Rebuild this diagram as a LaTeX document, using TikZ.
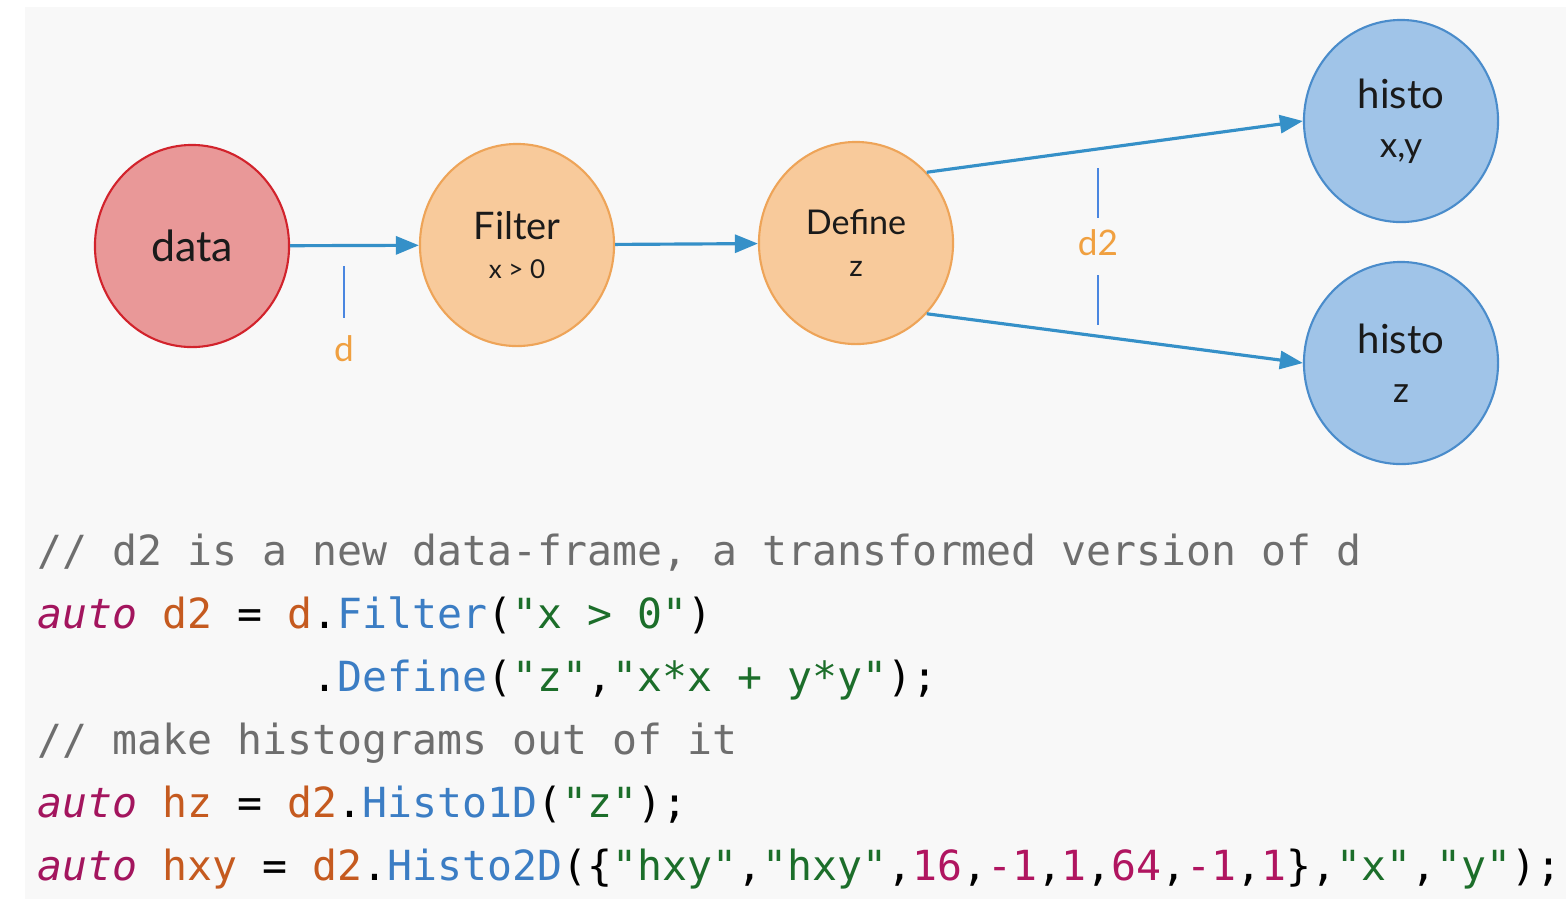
\documentclass[tikz,border=0pt]{standalone}
\usepackage{fontspec}
\setsansfont{Lato}
\setmonofont{DejaVu Sans Mono}
\usepackage{tikz}
\usetikzlibrary{positioning,shapes.geometric,arrows.meta}

\definecolor{bgcol}{HTML}{F8F8F8}
\definecolor{datafill}{HTML}{E99898}
\definecolor{dataline}{HTML}{D2232C}
\definecolor{opfill}{HTML}{F8CA9B}
\definecolor{opline}{HTML}{EEA458}
\definecolor{resfill}{HTML}{A0C4E8}
\definecolor{resline}{HTML}{4A8CCB}
\definecolor{flowcol}{HTML}{3590C8}
\definecolor{tickcol}{HTML}{4A86E0}
\definecolor{labcol}{HTML}{F0A040}
\definecolor{txtcol}{HTML}{1A1A1A}
\definecolor{cmtcol}{HTML}{6E6E6E}
\definecolor{kwcol}{HTML}{A3155E}
\definecolor{varcol}{HTML}{C55A1F}
\definecolor{fncol}{HTML}{3B7DC4}
\definecolor{strcol}{HTML}{1C6E2A}
\definecolor{numcol}{HTML}{B01560}

% code colouring
\newcommand\ckw[1]{{\color{kwcol}\itshape #1}}
\newcommand\cvar[1]{\textcolor{varcol}{#1}}
\newcommand\cfn[1]{\textcolor{fncol}{#1}}
\newcommand\cstr[1]{\textcolor{strcol}{#1}}
\newcommand\cnum[1]{\textcolor{numcol}{#1}}
\newcommand\ccmt[1]{\textcolor{cmtcol}{#1}}
\newcommand\fsz[2]{\fontsize{#1}{#2}\selectfont}

\begin{document}
\begin{tikzpicture}[
  x=0.01cm, y=-0.01cm,
  stage/.style={ellipse, draw, line width=0.6pt, minimum width=1.94cm,
                minimum height=2.02cm, inner sep=0pt, align=center,
                text=txtcol, font=\sffamily},
  source/.style={stage, fill=datafill, draw=dataline},
  op/.style={stage, fill=opfill, draw=opline},
  result/.style={stage, fill=resfill, draw=resline},
  flow/.style={-{Triangle[length=2.3mm,width=1.8mm]}, draw=flowcol,
               line width=0.9pt},
  tick/.style={draw=tickcol, line width=0.4pt},
  varlabel/.style={text=labcol, font=\sffamily\fsz{10}{12}, inner sep=0pt},
  codeline/.style={anchor=base west, inner sep=0pt, font=\ttfamily\fsz{11.8}{14}}
]
\useasboundingbox (0,0) rectangle (1566,899);
\fill[bgcol] (25,7) rectangle (1566,899);

% pipeline
\node[source] (data) at (192,246) {\fsz{12.2}{14}data};
\node[op] (filter) at (517,245) {\fsz{10.8}{9.7}Filter\\[-1pt]\fsz{7.4}{9.7}x > 0};
\node[op] (define) at (856,243) {\fsz{9.7}{10.8}Define\\\fsz{8.5}{10.8}z};
\node[result] (hxy) at (1401,121) {\fsz{11.4}{12.8}histo\\[2pt]x,y};
\node[result] (hz) at (1401,363) {\fsz{11.4}{13.9}histo\\[2pt]z};

\draw[flow] (data) -- (filter);
\draw[flow] (filter) -- (define);
\draw[flow] (define.45) -- (hxy.west);
\draw[flow] (define.-45) -- (hz.west);

% data-frame labels
\node[varlabel] (dlab) at (344,349) {d};
\draw[tick] (dlab) ++(0,-83) -- ++(0,52);
\node[varlabel] (d2lab) at (1098,243) {d2};
\draw[tick] (d2lab) ++(0,-75) -- ++(0,50);
\draw[tick] (d2lab) ++(0,32) -- ++(0,50);

% code
\node[codeline] (c1) at (37,565) {\ccmt{// d2 is a new data-frame, a transformed version of d}};
\node[codeline] (c2) at (37,628) {\ckw{auto} \cvar{d2} = \cvar{d}.\cfn{Filter}(\cstr{"x > 0"})};
\node[codeline] (c3) at (37,691) {\phantom{auto d2 = d}.\cfn{Define}(\cstr{"z"},\cstr{"x*x + y*y"});};
\node[codeline] (c4) at (37,754) {\ccmt{// make histograms out of it}};
\node[codeline] (c5) at (37,817) {\ckw{auto} \cvar{hz} = \cvar{d2}.\cfn{Histo1D}(\cstr{"z"});};
\node[codeline] (c6) at (37,880) {\ckw{auto} \cvar{hxy} = \cvar{d2}.\cfn{Histo2D}(\{\cstr{"hxy"},\cstr{"hxy"},\cnum{16},\cnum{-1},\cnum{1},\cnum{64},\cnum{-1},\cnum{1}\},\cstr{"x"},\cstr{"y"});};
\end{tikzpicture}
\end{document}
